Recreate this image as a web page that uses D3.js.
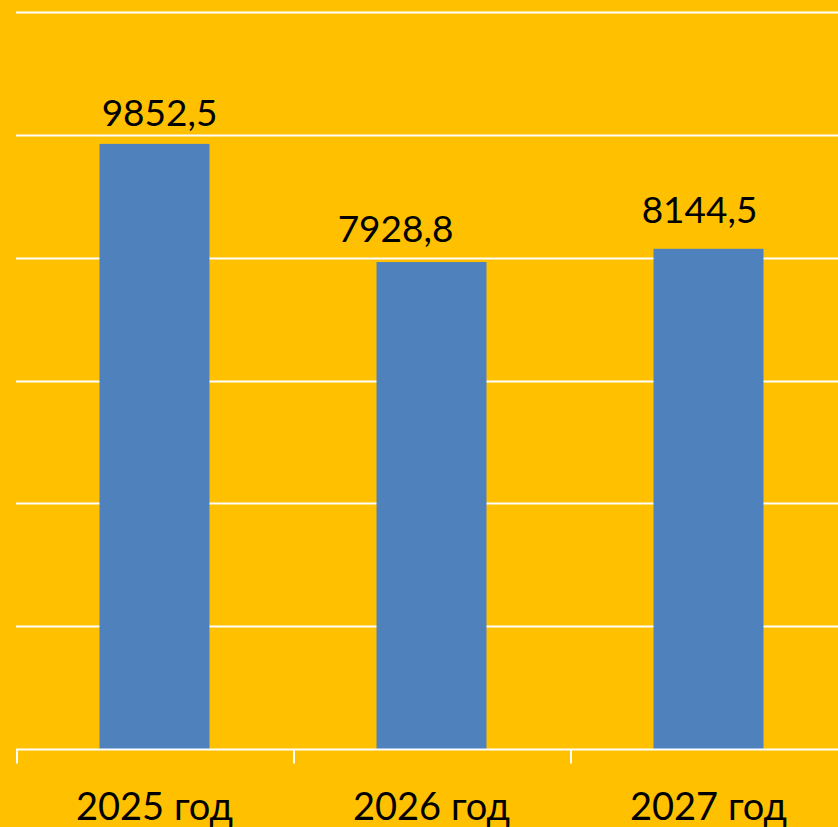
<!DOCTYPE html>
<html lang="ru">
<head>
<meta charset="UTF-8">
<title>Chart</title>
<script src="https://d3js.org/d3.v7.min.js"></script>
<style>
  body { margin: 0; background: #FFC000; }
  svg { display: block; }
</style>
</head>
<body>
<script type="text/javascript">
    var width = 838;
    var height = 827;

    // data
    var categories = ["2025 год", "2026 год", "2027 год"];
    var values = [9852.5, 7928.8, 8144.5];
    var valueLabels = ["9852,5", "7928,8", "8144,5"];
    var gridTicks = [0, 2000, 4000, 6000, 8000, 10000, 12000];

    var left = 16, bandW = 277;
    var baseY = 749, topY = 12;

    // labels were dragged by hand in the original, so nudge them the same way
    var labelNudge = [[5, -18], [-36, -20], [-9, -26]];

    var xScale = d3.scaleBand()
        .domain(categories)
        .range([left, left + bandW * categories.length])
        .paddingInner(0.603)
        .paddingOuter(0.3015);

    var yScale = d3.scaleLinear()
        .domain([0, 12000])
        .range([baseY, topY]);

    var svg = d3.select("body").append("svg")
        .attr("width", width)
        .attr("height", height);

    svg.append("rect")
        .attr("width", width)
        .attr("height", height)
        .attr("fill", "#FFC000");

    // gridlines
    svg.append("g")
        .selectAll("line")
        .data(gridTicks.slice(1))
        .enter()
        .append("line")
        .attr("x1", left)
        .attr("x2", left + bandW * 3)
        .attr("y1", function (d) { return Math.round(yScale(d)) + 0.5; })
        .attr("y2", function (d) { return Math.round(yScale(d)) + 0.5; })
        .attr("stroke", "#ffffff")
        .attr("stroke-width", 2);

    // bars
    svg.append("g")
        .selectAll("rect")
        .data(values)
        .enter()
        .append("rect")
        .attr("x", function (d, i) { return xScale(categories[i]); })
        .attr("width", xScale.bandwidth())
        .attr("y", function (d) { return yScale(d); })
        .attr("height", function (d) { return baseY - yScale(d); })
        .attr("fill", "#4F81BD");

    // x axis
    var xAxis = d3.axisBottom(xScale)
        .tickSize(0)
        .tickFormat("");
    var axisG = svg.append("g")
        .attr("transform", "translate(0," + (baseY + 0.5) + ")")
        .call(xAxis);
    axisG.select(".domain").remove();
    axisG.append("line")
        .attr("x1", left)
        .attr("x2", left + bandW * 3)
        .attr("stroke", "#ffffff")
        .attr("stroke-width", 2);
    axisG.selectAll(".sep")
        .data(d3.range(categories.length + 1))
        .enter()
        .append("line")
        .attr("class", "sep")
        .attr("x1", function (d) { return left + d * bandW + 1; })
        .attr("x2", function (d) { return left + d * bandW + 1; })
        .attr("y1", 0)
        .attr("y2", 14)
        .attr("stroke", "#ffffff")
        .attr("stroke-width", 2);

    // category labels
    svg.append("g")
        .selectAll("text")
        .data(categories)
        .enter()
        .append("text")
        .attr("x", function (d) { return xScale(d) + xScale.bandwidth() / 2; })
        .attr("y", 820)
        .attr("text-anchor", "middle")
        .attr("font-family", "Lato, sans-serif")
        .attr("font-size", "38px")
        .attr("fill", "#000000")
        .text(function (d) { return d; });

    // value labels
    svg.append("g")
        .selectAll("text")
        .data(values)
        .enter()
        .append("text")
        .attr("x", function (d, i) { return xScale(categories[i]) + xScale.bandwidth() / 2 + labelNudge[i][0]; })
        .attr("y", function (d, i) { return yScale(d) + labelNudge[i][1]; })
        .attr("text-anchor", "middle")
        .attr("font-family", "Lato, sans-serif")
        .attr("font-size", "37px")
        .attr("fill", "#000000")
        .text(function (d, i) { return valueLabels[i]; });
</script>
</body>
</html>
